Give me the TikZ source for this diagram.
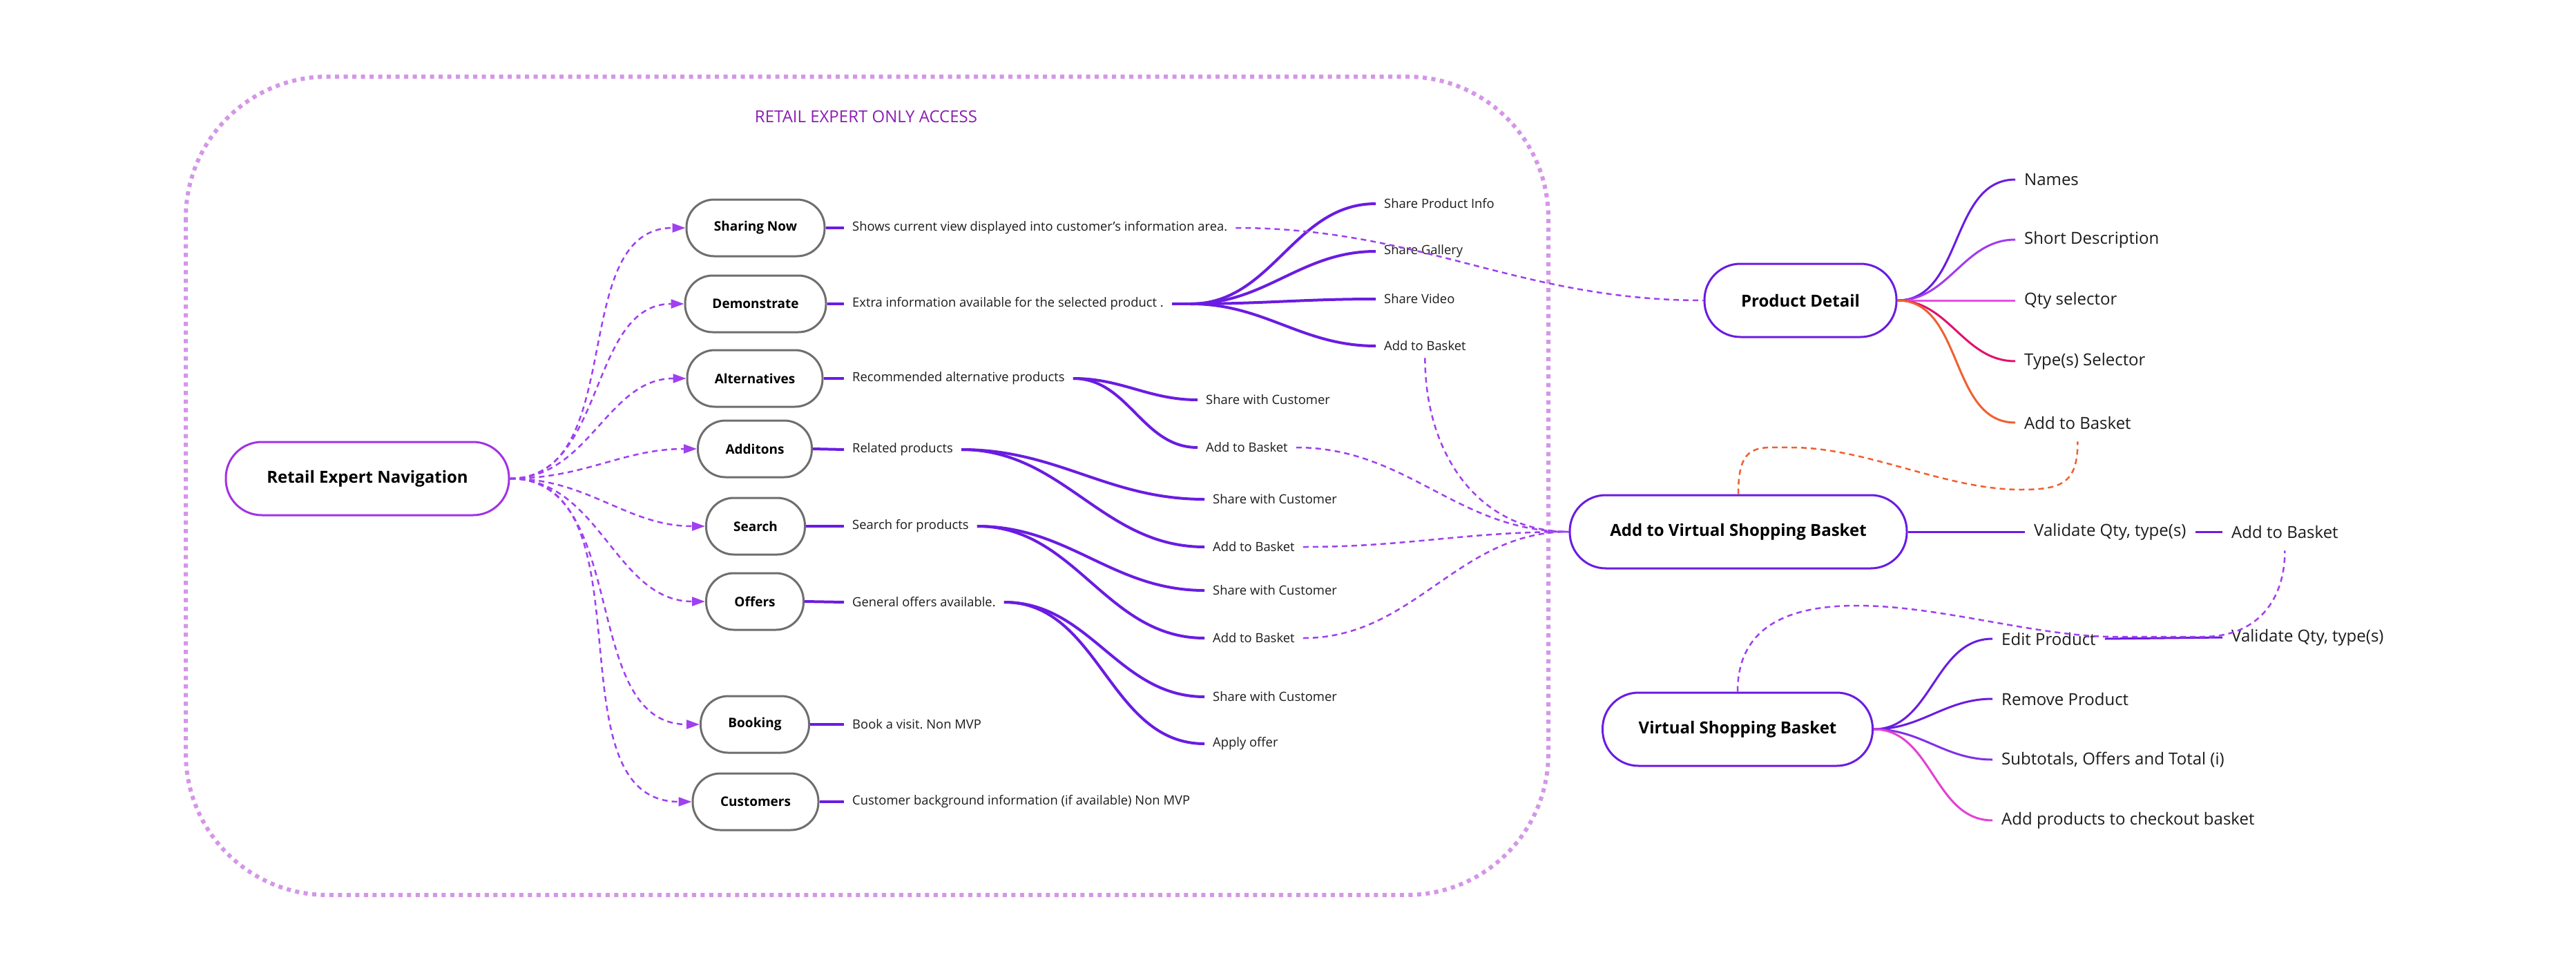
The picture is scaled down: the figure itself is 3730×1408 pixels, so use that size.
\documentclass[tikz,border=0pt]{standalone}
\usepackage{fontspec}
\setmainfont{Open Sans}
\usetikzlibrary{arrows.meta,calc}
\frenchspacing
\definecolor{vio}{RGB}{106,28,226}
\definecolor{lvio}{RGB}{160,64,240}
\definecolor{nav}{RGB}{162,50,230}
\definecolor{framec}{RGB}{212,150,232}
\definecolor{titlec}{RGB}{140,30,180}
\definecolor{gbord}{RGB}{110,110,110}
\definecolor{mag}{RGB}{228,80,228}
\definecolor{crim}{RGB}{226,16,110}
\definecolor{orng}{RGB}{240,96,48}
\definecolor{pinkc}{RGB}{228,64,212}
\definecolor{sdc}{RGB}{160,60,240}
\definecolor{stc}{RGB}{128,48,232}
\definecolor{txt}{RGB}{28,28,28}
\begin{document}
\frenchspacing
\begin{tikzpicture}[x=1pt,y=-1pt,
  leftbox/.style={draw=gbord, line width=3pt, rounded corners=40pt, minimum height=82pt, inner sep=0pt, fill=white, font=\fontsize{19}{22}\selectfont\bfseries, text=black},
  bigbox/.style={draw=vio, line width=3pt, rounded corners=52pt, minimum height=106pt, inner sep=0pt, fill=white, font=\fontsize{24}{28}\selectfont\bfseries, text=black},
  desc/.style={inner xsep=12pt, inner ysep=2pt, anchor=west, font=\fontsize{18.4}{22}\selectfont, text=txt},
  rlab/.style={inner xsep=13pt, inner ysep=2pt, anchor=west, font=\fontsize{24}{28}\selectfont, text=txt},
  br/.style={draw=vio, line width=4pt},
  rbr/.style={line width=3pt},
  arr/.style={draw=lvio, line width=2.5pt, dash pattern=on 8pt off 6pt, -{Triangle[length=19pt,width=13pt]}},
  dsh/.style={draw=lvio, line width=2.5pt, dash pattern=on 8pt off 6pt},
]
\fill[white] (0,0) rectangle (3730,1408);
\useasboundingbox (0,0) rectangle (3730,1408);

% frame
\draw[framec, line width=6pt, dash pattern=on 6pt off 6.5pt, rounded corners=205pt] (269,111) rectangle (2242,1296);
\node[font=\fontsize{24}{28}\selectfont, text=titlec] (title) at (1254,169) {RETAIL EXPERT ONLY ACCESS};

% main left node
\node[bigbox, draw=nav, minimum width=410pt] (ren) at (532,693) {Retail Expert Navigation};

% left boxes
\node[leftbox, minimum width=200pt] (sn) at (1094,330) {Sharing Now};
\node[leftbox, minimum width=204pt] (dm) at (1094,440) {Demonstrate};
\node[leftbox, minimum width=196pt] (al) at (1093,548) {Alternatives};
\node[leftbox, minimum width=165pt] (ad) at (1093,650) {Additons};
\node[leftbox, minimum width=143pt] (se) at (1094,762) {Search};
\node[leftbox, minimum width=141pt] (of) at (1093,871) {Offers};
\node[leftbox, minimum width=157pt] (bk) at (1093,1049) {Booking};
\node[leftbox, minimum width=182pt] (cu) at (1094,1161) {Customers};

\foreach \n in {sn,dm,al,ad,se,of,bk,cu}
  \draw[arr] (ren.east) to[out=0,in=180] (\n.west);

% descriptions
\node[desc] (snt) at (1222,330) {Shows current view displayed into customer’s information area.};
\node[desc] (dmt) at (1222,440) {Extra information available for the selected product .};
\node[desc] (alt) at (1222,548) {Recommended alternative products};
\node[desc] (adt) at (1222,651) {Related products};
\node[desc] (set) at (1222,762) {Search for products};
\node[desc] (oft) at (1222,872) {General offers available.};
\node[desc] (bkt) at (1222,1049) {Book a visit. Non MVP};
\node[desc] (cut) at (1222,1161) {Customer background information (if available) Non MVP};
\draw[br] (sn.east) -- (snt.west);
\draw[br] (dm.east) -- (dmt.west);
\draw[br] (al.east) -- (alt.west);
\draw[br] (ad.east) -- (adt.west);
\draw[br] (se.east) -- (set.west);
\draw[br] (of.east) -- (oft.west);
\draw[br] (bk.east) -- (bkt.west);
\draw[br] (cu.east) -- (cut.west);

% demonstrate fan
\coordinate (dmo) at (1724,440);
\draw[br] (dmt.east) -- (dmo);
\node[desc] (spi) at (1992,295) {Share Product Info};
\node[desc] (sga) at (1992,364) {Share Gallery};
\node[desc] (svi) at (1992,433) {Share Video};
\node[desc] (dab) at (1992,501) {Add to Basket};
\foreach \t in {spi,sga,svi,dab} \draw[br] (dmo) to[out=0,in=180] (\t.west);

% alternatives fan
\node[desc] (asc) at (1734,579) {Share with Customer};
\node[desc] (aab) at (1734,648) {Add to Basket};
\foreach \t in {asc,aab} \draw[br] (alt.east) to[out=0,in=180] (\t.west);

% additons fan
\node[desc] (dsc) at (1744,723) {Share with Customer};
\node[desc] (adab) at (1744,792) {Add to Basket};
\foreach \t in {dsc,adab} \draw[br] (adt.east) to[out=0,in=180] (\t.west);

% search fan
\node[desc] (ssc) at (1744,855) {Share with Customer};
\node[desc] (sab) at (1744,924) {Add to Basket};
\foreach \t in {ssc,sab} \draw[br] (set.east) to[out=0,in=180] (\t.west);

% offers fan
\node[desc] (osc) at (1744,1009) {Share with Customer};
\node[desc] (oao) at (1744,1077) {Apply offer};
\foreach \t in {osc,oao} \draw[br] (oft.east) to[out=0,in=180] (\t.west);

% right side
\node[bigbox, minimum width=278pt] (pd) at (2607,435) {Product Detail};
\node[bigbox, minimum width=488pt] (avsb) at (2517,770) {Add to Virtual Shopping Basket};
\node[bigbox, minimum width=391pt] (vsb) at (2516,1056) {Virtual Shopping Basket};

\node[rlab] (pn) at (2918,260) {Names};
\node[rlab] (psd) at (2918,347) {Short Description};
\node[rlab] (pq) at (2918,435) {Qty selector};
\node[rlab] (pt) at (2918,523) {Type(s) Selector};
\node[rlab] (pab) at (2918,612) {Add to Basket};
\draw[rbr, draw=vio] (pd.east) to[out=0,in=180] (pn.west);
\draw[rbr, draw=sdc] (pd.east) to[out=0,in=180] (psd.west);
\draw[rbr, draw=mag] (pd.east) -- (pq.west);
\draw[rbr, draw=crim] (pd.east) to[out=0,in=180] (pt.west);
\draw[rbr, draw=orng] (pd.east) to[out=0,in=180] (pab.west);

\node[rlab] (vq1) at (2932,770) {Validate Qty, type(s)};
\node[rlab] (aab2) at (3218,770) {Add to Basket};
\draw[rbr, draw=vio] (avsb.east) -- (vq1.west);
\draw[rbr, draw=vio] (vq1.east) -- (aab2.west);

\node[rlab] (ep) at (2885,925) {Edit Product};
\node[rlab] (rp) at (2885,1012) {Remove Product};
\node[rlab] (stt) at (2885,1100) {Subtotals, Offers and Total (i)};
\node[rlab] (apc) at (2885,1188) {Add products to checkout basket};
\node[rlab] (vq2) at (3218,923) {Validate Qty, type(s)};
\draw[rbr, draw=vio] (vsb.east) to[out=0,in=180] (ep.west);
\draw[rbr, draw=vio] (vsb.east) to[out=0,in=180] (rp.west);
\draw[rbr, draw=stc] (vsb.east) to[out=0,in=180] (stt.west);
\draw[rbr, draw=pinkc] (vsb.east) to[out=0,in=180] (apc.west);
\draw[rbr, draw=vio] (ep.east) -- (vq2.west);

% dashed connections
\draw[dsh] (snt.east) to[out=0,in=180] (pd.west);
\draw[dsh] ($(dab.south)+(0,8)$) .. controls +(0,140) and +(-130,0) .. (avsb.west);
\draw[dsh] (aab.east) to[out=0,in=180] (avsb.west);
\draw[dsh] (adab.east) to[out=0,in=180] (avsb.west);
\draw[dsh] (sab.east) to[out=0,in=180] (avsb.west);

\draw[orng, line width=2.5pt, dash pattern=on 8pt off 6pt] (avsb.north) .. controls +(0,-75) and +(-50,0) .. (2594,648) .. controls +(110,0) and +(-110,0) .. (2926,709) .. controls +(60,0) and +(0,60) .. ($(pab.south)+(0,16)$);

\draw[dsh] (vsb.north) .. controls +(0,-100) and +(-90,0) .. (2689,877) .. controls +(120,0) and +(-110,0) .. (3060,922) -- (3190,922) .. controls +(80,0) and +(0,70) .. ($(aab2.south)+(0,16)$);
\end{tikzpicture}
\end{document}
